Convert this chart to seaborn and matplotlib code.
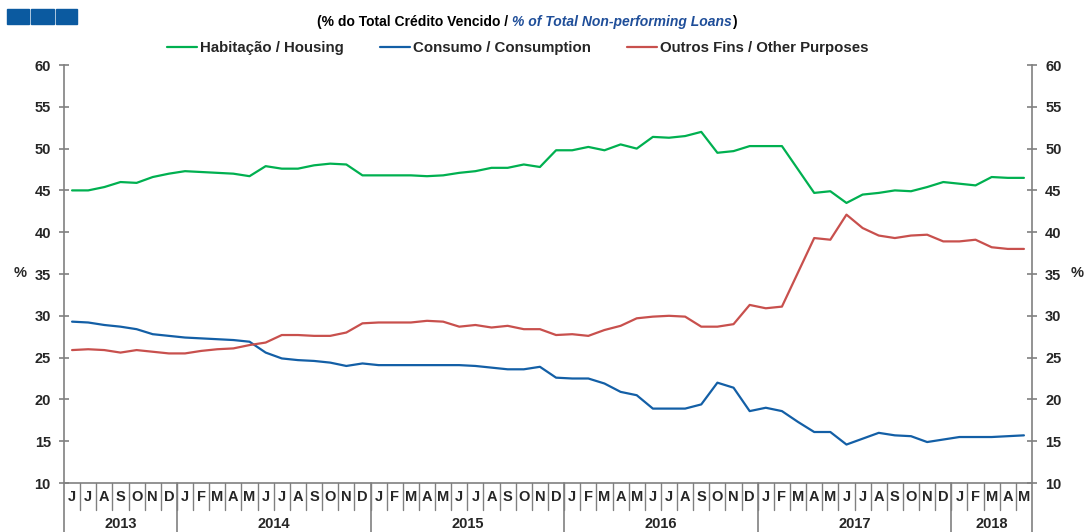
import matplotlib
matplotlib.use("Agg")
import matplotlib.pyplot as plt
from matplotlib.patches import Rectangle
import numpy as np
import pandas as pd
import seaborn as sns

# ── data (monthly, Jun 2013 – May 2018) ───────────────────────────────────────
meses = (["J", "J", "A", "S", "O", "N", "D"]
         + ["J", "F", "M", "A", "M", "J", "J", "A", "S", "O", "N", "D"] * 4
         + ["J", "F", "M", "A", "M"])
anos = ["2013", "2014", "2015", "2016", "2017", "2018"]
meses_por_ano = [7, 12, 12, 12, 12, 5]

habitacao = [45.0, 45.0, 45.4, 46.0, 45.9, 46.6, 47.0, 47.3, 47.2, 47.1,
             47.0, 46.7, 47.9, 47.6, 47.6, 48.0, 48.2, 48.1, 46.8, 46.8,
             46.8, 46.8, 46.7, 46.8, 47.1, 47.3, 47.7, 47.7, 48.1, 47.8,
             49.8, 49.8, 50.2, 49.8, 50.5, 50.0, 51.4, 51.3, 51.5, 52.0,
             49.5, 49.7, 50.3, 50.3, 50.3, 47.5, 44.7, 44.9, 43.5, 44.5,
             44.7, 45.0, 44.9, 45.4, 46.0, 45.8, 45.6, 46.6, 46.5, 46.5]
consumo = [29.3, 29.2, 28.9, 28.7, 28.4, 27.8, 27.6, 27.4, 27.3, 27.2,
           27.1, 26.9, 25.6, 24.9, 24.7, 24.6, 24.4, 24.0, 24.3, 24.1,
           24.1, 24.1, 24.1, 24.1, 24.1, 24.0, 23.8, 23.6, 23.6, 23.9,
           22.6, 22.5, 22.5, 21.9, 20.9, 20.5, 18.9, 18.9, 18.9, 19.4,
           22.0, 21.4, 18.6, 19.0, 18.6, 17.3, 16.1, 16.1, 14.6, 15.3,
           16.0, 15.7, 15.6, 14.9, 15.2, 15.5, 15.5, 15.5, 15.6, 15.7]
outros = [25.9, 26.0, 25.9, 25.6, 25.9, 25.7, 25.5, 25.5, 25.8, 26.0,
          26.1, 26.5, 26.8, 27.7, 27.7, 27.6, 27.6, 28.0, 29.1, 29.2,
          29.2, 29.2, 29.4, 29.3, 28.7, 28.9, 28.6, 28.8, 28.4, 28.4,
          27.7, 27.8, 27.6, 28.3, 28.8, 29.7, 29.9, 30.0, 29.9, 28.7,
          28.7, 29.0, 31.3, 30.9, 31.1, 35.2, 39.3, 39.1, 42.1, 40.5,
          39.6, 39.3, 39.6, 39.7, 38.9, 38.9, 39.1, 38.2, 38.0, 38.0]

series = {"Habitação / Housing": habitacao,
          "Consumo / Consumption": consumo,
          "Outros Fins / Other Purposes": outros}
cores = {"Habitação / Housing": "#00B050",
         "Consumo / Consumption": "#135FA6",
         "Outros Fins / Other Purposes": "#C8504D"}

n = len(meses)
df = pd.concat([pd.DataFrame({"pos": np.arange(n) + 0.5, "valor": v, "serie": k})
                for k, v in series.items()], ignore_index=True)

# ── figure ────────────────────────────────────────────────────────────────────
sns.set_style("white")
plt.rcParams["font.family"] = ["Liberation Sans", "DejaVu Sans"]
W, H = 1085, 532
fig = plt.figure(figsize=(W / 100, H / 100), dpi=100)
ax = fig.add_axes([64 / W, 1 - 483 / H, (1032 - 64) / W, (483 - 65) / H])

sns.lineplot(data=df, x="pos", y="valor", hue="serie", palette=cores,
             linewidth=1.6, ax=ax)

ax.set_xlim(0, n)
ax.set_ylim(10, 60)
ax.set_yticks(range(10, 61, 5))
ax.set_xticks([])
ax.set_xlabel("")
ax.set_ylabel("")
cinza = "#808080"
for s in ["left", "right", "bottom"]:
    ax.spines[s].set_color(cinza)
    ax.spines[s].set_linewidth(1.2)
ax.spines["top"].set_visible(False)
ax.tick_params(axis="y", direction="inout", length=7, width=1.2, color=cinza,
               left=True, right=True, labelleft=True, labelright=True,
               labelsize=10.5, pad=6)
for lbl in ax.get_yticklabels():
    lbl.set_fontweight("bold")

# month / year labels below the axis
tr = ax.get_xaxis_transform()
for i, m in enumerate(meses):
    ax.text(i + 0.5, -0.034, m, transform=tr, ha="center", va="center",
            fontsize=10.5, fontweight="bold")
limites = np.concatenate([[0], np.cumsum(meses_por_ano)])
for i in range(1, n):
    ax.plot([i, i], [0, -0.065], transform=tr, color=cinza, lw=1, clip_on=False)
for b in limites:
    ax.plot([b, b], [0, -0.12], transform=tr, color=cinza, lw=1.2, clip_on=False)
for a, x0, x1 in zip(anos, limites[:-1], limites[1:]):
    ax.text((x0 + x1) / 2, -0.097, a, transform=tr, ha="center", va="center",
            fontsize=10.5, fontweight="bold")

# % labels
fig.text(20 / W, 1 - 273 / H, "%", ha="center", va="center",
         fontsize=10.5, fontweight="bold")
fig.text(1077 / W, 1 - 273 / H, "%", ha="center", va="center",
         fontsize=10.5, fontweight="bold")

# legend
sns.move_legend(ax, "center", bbox_to_anchor=(518 / W, 1 - 48 / H),
                bbox_transform=fig.transFigure, ncol=3, frameon=False,
                title=None, handlelength=2.0, handletextpad=0.2,
                columnspacing=2.4, prop={"weight": "bold", "size": 10.8})

# subtitle in pieces (black / blue italic / black)
fig.canvas.draw()
renderer = fig.canvas.get_renderer()
partes = [("(% do Total Crédito Vencido / ", "black", "normal"),
          ("% of Total Non-performing Loans", "#1F4E99", "italic"),
          (")", "black", "normal")]
txts = []
for t, c, st in partes:
    txts.append(fig.text(0, 1 - 22 / H, t, color=c, style=st, fontsize=10,
                         fontweight="bold", ha="left", va="center"))
larguras = [t.get_window_extent(renderer).width for t in txts]
x = 527 - sum(larguras) / 2
for t, w in zip(txts, larguras):
    t.set_x(x / W)
    x += w

# logo squares
for x0, x1 in [(7, 29), (31, 54), (56, 77)]:
    fig.patches.append(Rectangle((x0 / W, 1 - 24 / H), (x1 - x0) / W, 15 / H,
                                 transform=fig.transFigure, color="#0B5AA0"))

fig.savefig("out.png", dpi=100)
